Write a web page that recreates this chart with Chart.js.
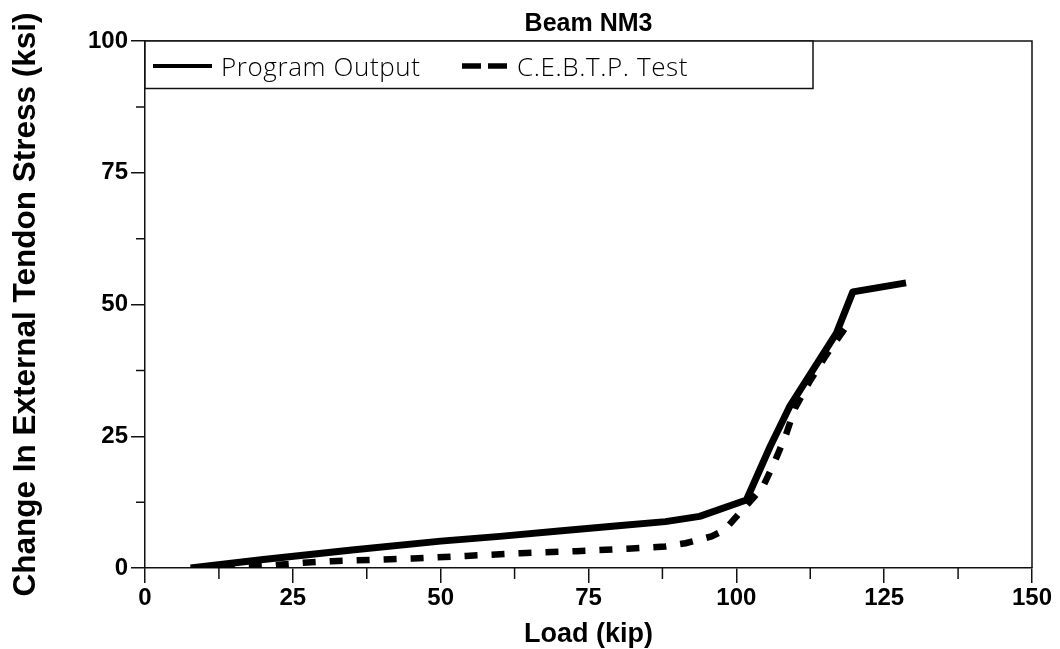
<!DOCTYPE html>
<html><head><meta charset="utf-8">
<script src="https://cdn.jsdelivr.net/npm/chart.js@4.4.0/dist/chart.umd.min.js"></script>
<style>html,body{margin:0;padding:0;background:#fff;overflow:hidden}#wrap{width:1060px;height:649px}</style>
</head><body><div id="wrap"><canvas id="c" width="1060" height="649"></canvas></div>
<script>
const chartTitle = 'Beam NM3';
const xTitle = 'Load (kip)';
const yTitle = 'Change In External Tendon Stress (ksi)';
const seriesNames = ['Program Output', 'C.E.B.T.P. Test'];

const programLoad   = [7.7, 20, 35, 50, 60, 70, 80, 88, 93.8, 101.7, 105.7, 109.0, 116.9, 119.7, 128.7];
const programStress = [0, 1.6, 3.4, 5.1, 6.0, 7.0, 8.0, 8.8, 9.8, 12.9, 23.0, 30.6, 44.5, 52.4, 54.1];

const testLoad   = [13, 20, 26.8, 31.6, 45.3, 54.3, 63.5, 72.9, 82.3, 88, 91.4, 95.8, 98, 100.3, 104.4, 106.5, 108.4, 109.9, 112.4, 115.2, 118.4, 118.9];
const testStress = [0, 0.4, 1.0, 1.3, 1.8, 2.3, 2.8, 3.2, 3.7, 4.1, 4.7, 6.0, 7.2, 10.1, 15.2, 20.2, 25.3, 30.3, 35.4, 40.4, 45.5, 46.5];

const xTicks = [0, 25, 50, 75, 100, 125, 150];
const yTicks = [0, 25, 50, 75, 100];
const xMinorTicks = [12.5, 37.5, 62.5, 87.5, 112.5, 137.5];
const yMinorTicks = [12.5, 37.5, 62.5, 87.5];

const toPoints = (xs, ys) => xs.map((x, i) => ({x: x, y: ys[i]}));
const INK = '#111';
const TICK_FONT = {family: '"Liberation Sans Narrow", "Liberation Sans", Arial, sans-serif', size: 24, weight: 'bold'};

const frameAndMinor = {
  id: 'frameAndMinor',
  afterDraw(chart) {
    const {ctx, chartArea: a, scales: {x, y}} = chart;
    ctx.save();
    ctx.strokeStyle = INK;
    ctx.lineWidth = 1.5;
    ctx.beginPath();
    ctx.moveTo(a.left, a.top); ctx.lineTo(a.right, a.top); ctx.lineTo(a.right, a.bottom);
    xMinorTicks.forEach(v => { const p = x.getPixelForValue(v); ctx.moveTo(p, a.bottom); ctx.lineTo(p, a.bottom + 11); });
    yMinorTicks.forEach(v => { const p = y.getPixelForValue(v); ctx.moveTo(a.left, p); ctx.lineTo(a.left - 9, p); });
    ctx.stroke();
    ctx.restore();
  }
};

const boxLegend = {
  id: 'boxLegend',
  afterDraw(chart) {
    const {ctx, chartArea: a} = chart;
    const ds = chart.data.datasets;
    const top = a.top, bottom = 88.5, left = a.left, right = 813;
    ctx.save();
    ctx.fillStyle = '#fff';
    ctx.fillRect(left, top, right - left, bottom - top);
    ctx.strokeStyle = INK; ctx.lineWidth = 1.5;
    ctx.strokeRect(left, top, right - left, bottom - top);
    const yMid = 66;
    ctx.font = '300 26px "Open Sans", "DejaVu Sans", sans-serif';
    if ('letterSpacing' in ctx) ctx.letterSpacing = '0.6px';
    ctx.fillStyle = '#000';
    ctx.textBaseline = 'alphabetic';
    ctx.strokeStyle = ds[0].borderColor; ctx.lineWidth = 4; ctx.setLineDash([]);
    ctx.beginPath(); ctx.moveTo(153, yMid); ctx.lineTo(212, yMid); ctx.stroke();
    ctx.fillText(ds[0].label, 221, 76);
    ctx.strokeStyle = ds[1].borderColor; ctx.lineWidth = 5.5; ctx.setLineDash([19, 7]);
    ctx.beginPath(); ctx.moveTo(462, yMid); ctx.lineTo(507, yMid); ctx.stroke();
    ctx.setLineDash([]);
    ctx.fillText(ds[1].label, 517, 76);
    ctx.restore();
  }
};

new Chart(document.getElementById('c'), {
  type: 'line',
  data: {
    datasets: [
      {label: seriesNames[0], data: toPoints(programLoad, programStress), borderColor: '#000', borderWidth: 7, pointRadius: 0, tension: 0, borderJoinStyle: 'round', fill: false},
      {label: seriesNames[1], data: toPoints(testLoad, testStress), borderColor: '#000', borderWidth: 6.5, borderDash: [13, 14], pointRadius: 0, tension: 0, fill: false}
    ]
  },
  options: {
    responsive: false, animation: false, devicePixelRatio: 1,
    layout: {padding: {top: 0, right: 28, left: 0, bottom: 0}},
    plugins: {
      legend: {display: false},
      tooltip: {enabled: false},
      title: {display: true, fullSize: false, text: chartTitle, color: '#000', font: {family: '"Liberation Sans", Arial, sans-serif', size: 25, weight: 'bold'}, padding: {top: 9, bottom: 2}}
    },
    scales: {
      x: {
        type: 'linear', min: 0, max: 150,
        afterBuildTicks: s => { s.ticks = xTicks.map(v => ({value: v})); },
        afterFit: s => { s.height = 81; s.paddingLeft = 0; s.paddingRight = 0; },
        ticks: {color: '#000', padding: 1, maxRotation: 0, font: TICK_FONT},
        grid: {drawOnChartArea: false, drawTicks: true, tickLength: 15, color: INK, lineWidth: 1.5},
        border: {display: true, color: INK, width: 1.5},
        title: {display: true, text: xTitle, color: '#000', font: {family: '"Liberation Sans", Arial, sans-serif', size: 27, weight: 'bold'}, padding: {top: 0, bottom: -2}}
      },
      y: {
        type: 'linear', min: 0, max: 100,
        afterBuildTicks: s => { s.ticks = yTicks.map(v => ({value: v})); },
        afterFit: s => { s.width = 145; s.paddingTop = 0; s.paddingBottom = 0; },
        ticks: {color: '#000', padding: 3, font: TICK_FONT},
        grid: {drawOnChartArea: false, drawTicks: true, tickLength: 14, color: INK, lineWidth: 1.5},
        border: {display: true, color: INK, width: 1.5},
        title: {display: true, text: yTitle, color: '#000', font: {family: '"Liberation Sans", Arial, sans-serif', size: 31.5, weight: 'bold'}, padding: {top: 7, bottom: 0}}
      }
    }
  },
  plugins: [frameAndMinor, boxLegend]
});
</script></body></html>
